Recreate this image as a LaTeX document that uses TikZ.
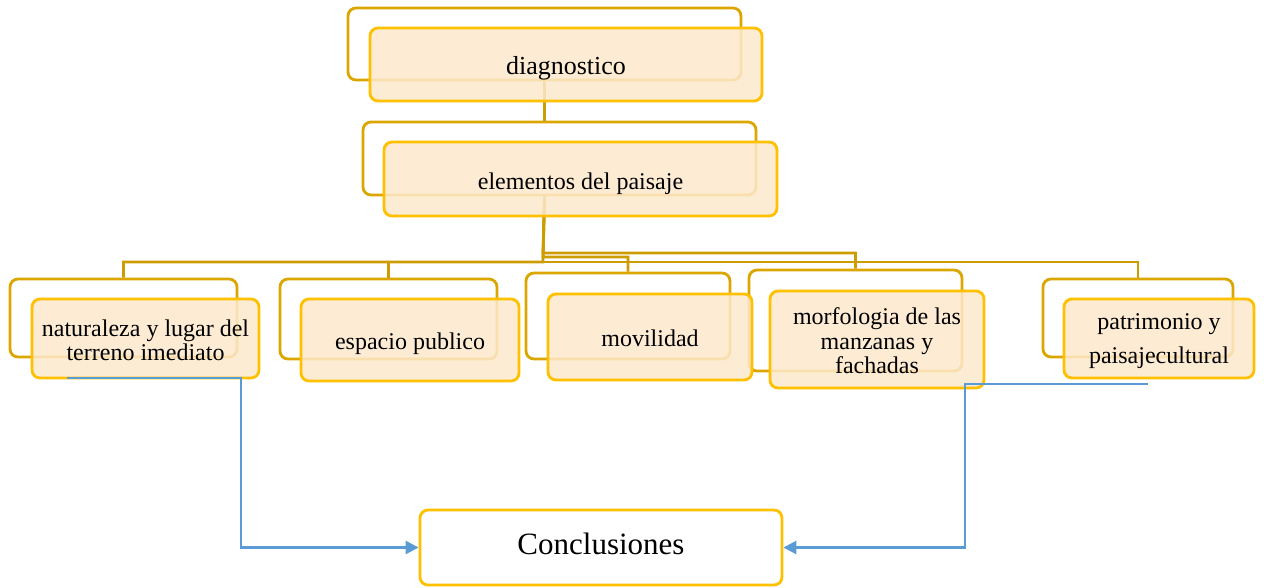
\documentclass[tikz,border=0pt]{standalone}
\usepackage{fontspec}
\setmainfont{Liberation Serif}
\usetikzlibrary{arrows.meta}
\definecolor{backb}{HTML}{DCA600}
\definecolor{frontb}{HTML}{FFC000}
\definecolor{frontf}{HTML}{FDE9CC}
\definecolor{conn}{HTML}{CC9C00}
\definecolor{bluel}{HTML}{5B9BD5}
\tikzset{
  backbox/.style={draw=backb, line width=2.8pt, rounded corners=8pt, fill=white, inner sep=0pt},
  frontbox/.style={draw=frontb, line width=2.8pt, rounded corners=8pt, fill=frontf, fill opacity=0.85, draw opacity=1, inner sep=0pt},
  txt/.style={inner sep=0pt, align=center, font=\fontsize{24}{24}\selectfont},
  conbox/.style={draw=frontb, line width=2.8pt, rounded corners=8pt, fill=white, inner sep=0pt},
  goldline/.style={draw=conn, line width=2.8pt},
  blueline/.style={draw=bluel, line width=2.6pt, -{Triangle[length=13pt,width=13pt]}}
}
\begin{document}
\begin{tikzpicture}[x=1pt,y=-1pt]
\useasboundingbox (0,0) rectangle (1264,587);
% back boxes
\node[backbox, minimum width=393pt, minimum height=72pt] (dB) at (544.5,44) {};
\node[backbox, minimum width=393pt, minimum height=73pt] (eB) at (559.5,158.5) {};
\node[backbox, minimum width=227pt, minimum height=78pt] (nB) at (123.5,318) {};
\node[backbox, minimum width=217pt, minimum height=80pt] (sB) at (388.5,319) {};
\node[backbox, minimum width=204pt, minimum height=86pt] (mB) at (628,316) {};
\node[backbox, minimum width=213pt, minimum height=101pt] (fB) at (855.5,320.5) {};
\node[backbox, minimum width=190pt, minimum height=78pt] (pB) at (1138,318) {};
% connectors
\draw[goldline] (dB.south) -- (dB.south |- eB.north);
\coordinate (ej) at (dB.south |- eB.south);
\coordinate (bus1) at (543,262);
\coordinate (bus2) at (543,257);
\coordinate (bus3) at (543,253);
\draw[goldline] (ej) -- (bus1) -| (nB.north);
\draw[goldline] (bus1) -| (sB.north);
\draw[goldline] (ej) -- (bus2) -| (mB.north);
\draw[goldline] (ej) -- (bus3) -| (fB.north);
\draw[goldline] (bus1) -| (pB.north);
% front boxes
\node[frontbox, minimum width=392pt, minimum height=73pt] (dF) at (566,64.5) {};
\node[frontbox, minimum width=393pt, minimum height=74pt] (eF) at (580.5,179) {};
\node[frontbox, minimum width=227pt, minimum height=79pt] (nF) at (145.5,338.5) {};
\node[frontbox, minimum width=218pt, minimum height=82pt] (sF) at (410,340) {};
\node[frontbox, minimum width=204pt, minimum height=86pt] (mF) at (650,337) {};
\node[frontbox, minimum width=214pt, minimum height=97pt] (fF) at (877,339.5) {};
\node[frontbox, minimum width=190pt, minimum height=79pt] (pF) at (1159,338.5) {};
% texts
\node[txt, font=\fontsize{26}{26}\selectfont] (dT) at ([yshift=-4pt]dF.center) {diagnostico};
\node[txt] (eT) at ([yshift=-5pt]eF.center) {elementos del paisaje};
\node[txt] (nT) at ([yshift=-2pt]nF.center) {naturaleza y lugar del\\terreno imediato};
\node[txt] (sT) at ([yshift=-4pt]sF.center) {espacio publico};
\node[txt] (mT) at ([yshift=-1pt]mF.center) {movilidad};
\node[txt] (fT) at ([yshift=-1.5pt]fF.center) {morfologia de las\\[0.5pt]manzanas y\\[0.5pt]fachadas};
\node[txt] (pT) at ([yshift=-3pt]pF.center) {patrimonio y\\[10pt]paisajecultural};
% conclusion
\node[conbox, minimum width=362pt, minimum height=75pt] (cc) at (601,547.5) {};
\node[txt, font=\fontsize{31}{34}\selectfont] (cT) at ([yshift=4pt]cc.center) {Conclusiones};
% blue arrows
\coordinate (b1) at (67,378);
\coordinate (b2) at (1148,384);
\draw[blueline] (b1) -- (241,378) |- (cc.west);
\draw[blueline] (b2) -- (965,384) |- (cc.east);
\end{tikzpicture}
\end{document}
